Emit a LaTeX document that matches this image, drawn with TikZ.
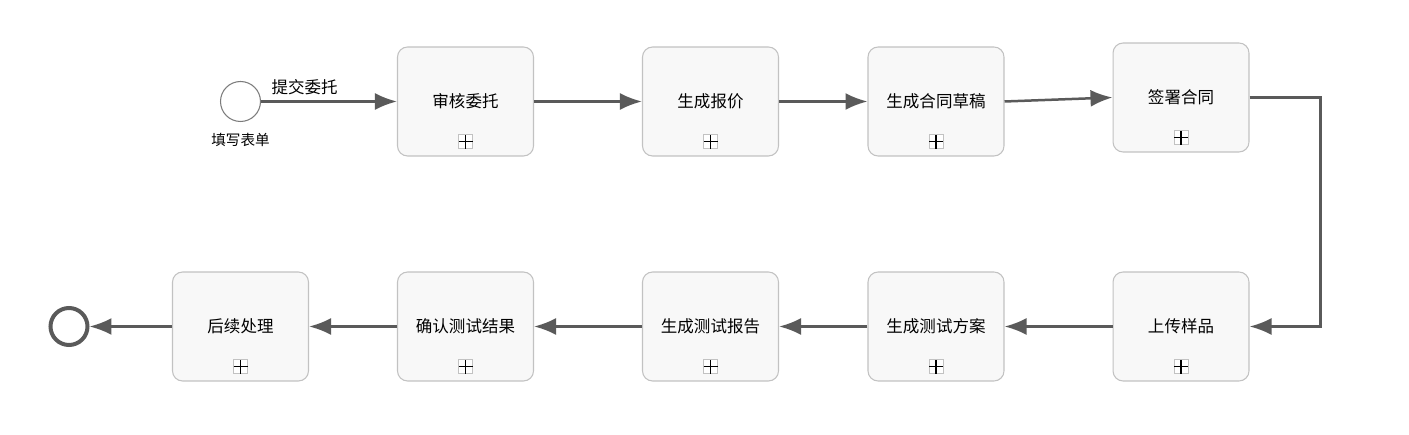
\documentclass[tikz,border=0pt]{standalone}
\usepackage{fontspec}
\setmainfont{Noto Sans CJK SC}
\usetikzlibrary{arrows.meta,positioning}
\definecolor{flowgray}{HTML}{5A5A5A}
\definecolor{taskline}{HTML}{C2C2C2}
\definecolor{taskfill}{HTML}{F8F8F8}
\tikzset{>={Latex[length=0.44cm,width=0.34cm]}}
\tikzset{
  task/.style={draw=taskline, fill=taskfill, line width=0.6pt, rounded corners=0.2cm,
    minimum width=2.72cm, minimum height=2.18cm, font=\fontsize{9.4}{11}\selectfont},
  startev/.style={circle, draw=flowgray!80, line width=0.6pt, minimum size=0.8cm},
  endev/.style={circle, draw=flowgray, line width=0.08cm, minimum size=0.74cm},
  flow/.style={->, draw=flowgray, line width=0.05cm}
}
\begin{document}
\begin{tikzpicture}[x=0.02cm, y=-0.02cm]
\useasboundingbox (0,0) rectangle (1409,435);
% first row
\node[startev] (start) at (240.5,101.5) {};
\node[below=0.1cm of start, font=\fontsize{8.3}{10}\selectfont] (startlbl) {填写表单};
\node[task] (audit) at (465.5,101.5) {审核委托};
\node[task] (quote) at (710.5,101.5) {生成报价};
\node[task] (draft) at (936,101.5) {生成合同草稿};
\node[task] (sign) at (1181,97.5) {签署合同};
% second row
\node[task] (upload) at (1181,326.5) {上传样品};
\node[task] (plan) at (936,326.5) {生成测试方案};
\node[task] (report) at (710.5,326.5) {生成测试报告};
\node[task] (confirm) at (465.5,326.5) {确认测试结果};
\node[task] (follow) at (240.5,326.5) {后续处理};
\node[endev] (end) at (69,326.5) {};
% subprocess markers
\foreach \t in {audit,quote,draft,sign,upload,plan,report,confirm,follow}
{
  \draw[taskline, line width=0.5pt, fill=white] ([shift={(-7,-8)}]\t.south) rectangle ([shift={(7,-22)}]\t.south);
  \draw[black, line width=0.6pt] ([shift={(-7,-15)}]\t.south) -- ([shift={(7,-15)}]\t.south)
    ([shift={(0,-8)}]\t.south) -- ([shift={(0,-22)}]\t.south);
}
% flows
\draw[flow] (start) -- node[above, pos=0.32, font=\fontsize{9.4}{11}\selectfont] {提交委托} (audit);
\draw[flow] (audit) -- (quote);
\draw[flow] (quote) -- (draft);
\draw[flow] (draft.east) -- (sign.west);
\draw[flow] (sign.east) -- ++(71,0) |- (upload.east);
\draw[flow] (upload) -- (plan);
\draw[flow] (plan) -- (report);
\draw[flow] (report) -- (confirm);
\draw[flow] (confirm) -- (follow);
\draw[flow] (follow) -- (end);
\end{tikzpicture}
\end{document}
